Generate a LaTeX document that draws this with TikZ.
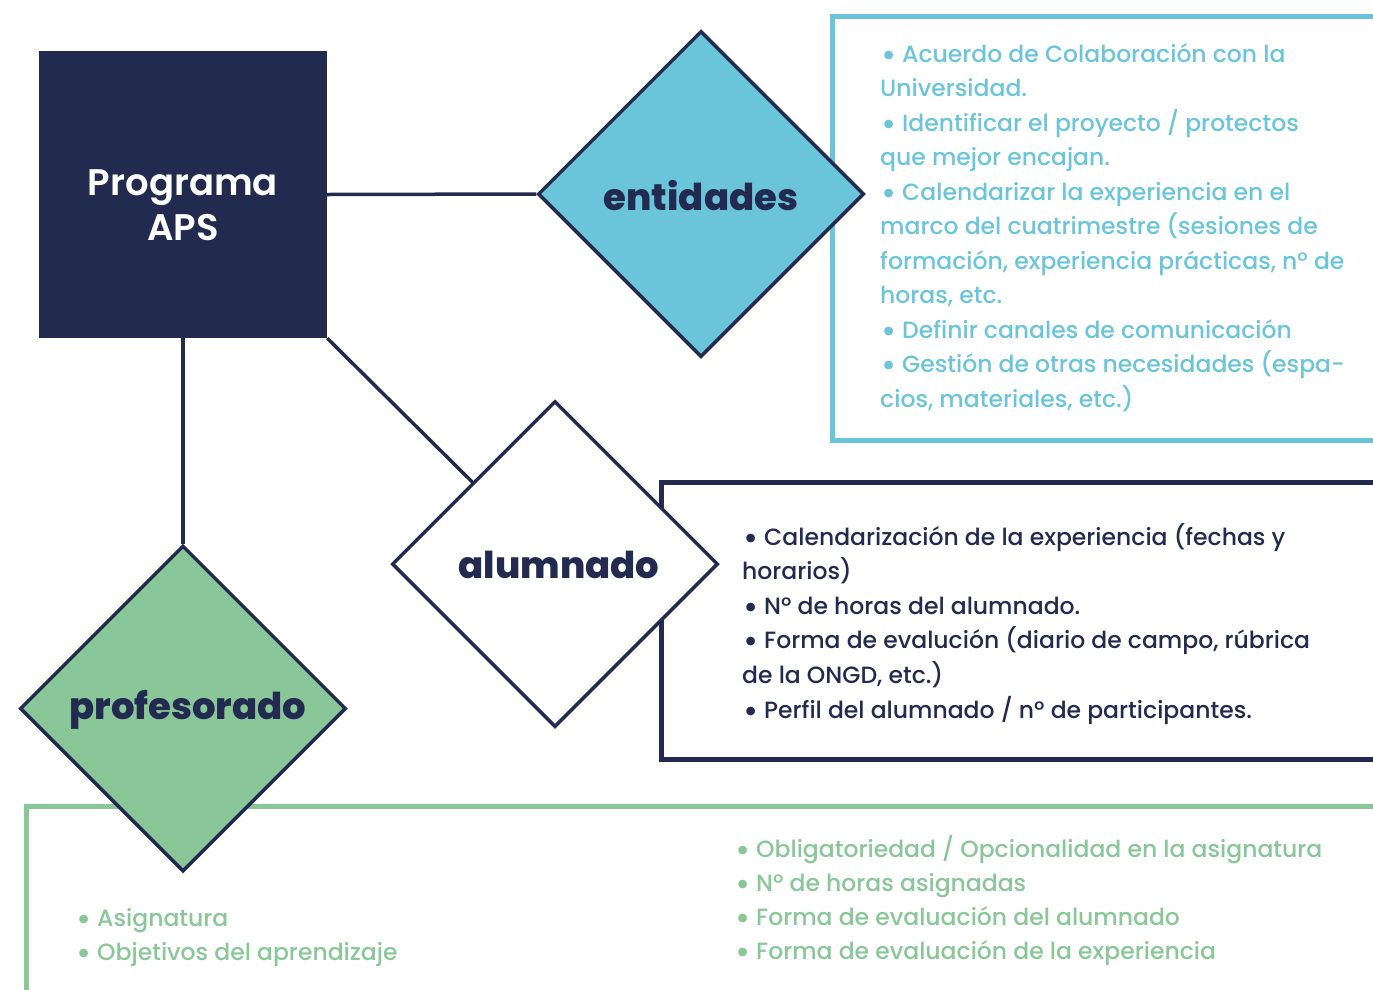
\documentclass[tikz,border=0pt]{standalone}
\usepackage{fontspec}
\setmainfont{Poppins}
\IfFontExistsTF{Poppins Medium}{\newfontfamily\medfont{Poppins Medium}}{\newcommand{\medfont}{\rmfamily}}
\IfFontExistsTF{Poppins SemiBold}{\newfontfamily\semifont{Poppins SemiBold}}{\newcommand{\semifont}{\bfseries}}
\IfFontExistsTF{Poppins ExtraBold}{\newfontfamily\xbfont{Poppins ExtraBold}}{\newcommand{\xbfont}{\bfseries}}
\usetikzlibrary{shapes.geometric,backgrounds}
\definecolor{navy}{HTML}{222B4F}
\definecolor{lblue}{HTML}{6BC5DA}
\definecolor{lgreen}{HTML}{89C698}
\newcommand{\bul}{\makebox[22pt][l]{\hspace{1pt}\raisebox{-0.17em}{\scalebox{1.4}{•}}}}
\begin{document}
\begin{tikzpicture}[x=1pt,y=-1pt,
  conn/.style={draw=navy, line width=3.5pt},
  dia/.style={diamond, draw=navy, line width=3.5pt, aspect=1, inner sep=0pt,
    minimum width=326pt, minimum height=326pt},
  txtbox/.style={draw=#1, line width=4.5pt, anchor=north west, inner sep=0pt},
  lbl/.style={font=\xbfont\fontsize{37}{42}\selectfont, text=navy, inner sep=0pt},
  entl/.style={anchor=base west, inner sep=0pt, text=lblue, font=\medfont\fontsize{23.5}{27}\selectfont},
  alul/.style={anchor=base west, inner sep=0pt, text=navy, font=\medfont\fontsize{23.5}{27}\selectfont},
  prol/.style={anchor=base west, inner sep=0pt, text=lgreen, font=\medfont\fontsize{23.5}{27}\selectfont}
]
\useasboundingbox (0,0) rectangle (1373,989);
% text boxes
\node[txtbox=lblue, minimum width=600pt, minimum height=424pt] (entbox) at (830,14) {};
\node[txtbox=navy, minimum width=800pt, minimum height=277pt] (alubox) at (659,480) {};
\node[txtbox=lgreen, minimum width=1400pt, minimum height=300pt] (profbox) at (24,804) {};
% main box
\node[fill=navy, minimum width=288pt, minimum height=287pt, inner sep=0pt] (prog) at (183,194.5) {};
\node[font=\semifont\fontsize{37}{45}\selectfont, text=white, align=center, inner sep=0pt] (progtxt) at (183,205) {Programa\\APS};
% diamonds
\node[dia, fill=lblue] (ent) at (701,194) {};
\node[dia, fill=white] (alu) at (555,564) {};
\node[dia, fill=lgreen] (prof) at (183,708.5) {};
\node[lbl] (entlbl) at (701,196) {entidades};
\node[lbl] (alulbl) at (559,565) {alumnado};
\node[lbl] (proflbl) at (188,710) {profesorado};
% connectors
\begin{scope}[on background layer]
\draw[conn] (prog.east) -- (ent.west);
\draw[conn] (prog.south east) -- (alu.center);
\draw[conn] (prog.south) -- (prof.north);
\end{scope}
% texts
\foreach \t [count=\i] in {{\bul Acuerdo de Colaboración con la},{Universidad.},
  {\bul Identificar el proyecto / protectos},{que mejor encajan.},
  {\bul Calendarizar la experiencia en el},{marco del cuatrimestre (sesiones de},
  {formación, experiencia prácticas, nº de},{horas, etc.},
  {\bul Definir canales de comunicación},{\bul Gestión de otras necesidades (espa-},
  {cios, materiales, etc.)}}
  \node[entl] (e\i) at (880,{62+34.5*(\i-1)}) {\t};
\foreach \t [count=\i] in {{\bul Calendarización de la experiencia (fechas y},{horarios)},
  {\bul Nº de horas del alumnado.},{\bul Forma de evalución (diario de campo, rúbrica},
  {de la ONGD, etc.)},{\bul Perfil del alumnado / nº de participantes.}}
  \node[alul] (a\i) at (742,{545+34.6*(\i-1)}) {\t};
\foreach \t [count=\i] in {{\bul Obligatoriedad / Opcionalidad en la asignatura},
  {\bul Nº de horas asignadas},{\bul Forma de evaluación del alumnado},
  {\bul Forma de evaluación de la experiencia}}
  \node[prol] (p\i) at (734,{857+34.3*(\i-1)}) {\t};
\node[prol] (q1) at (75,926) {\bul Asignatura};
\node[prol] (q2) at (75,960) {\bul Objetivos del aprendizaje};
\end{tikzpicture}
\end{document}
